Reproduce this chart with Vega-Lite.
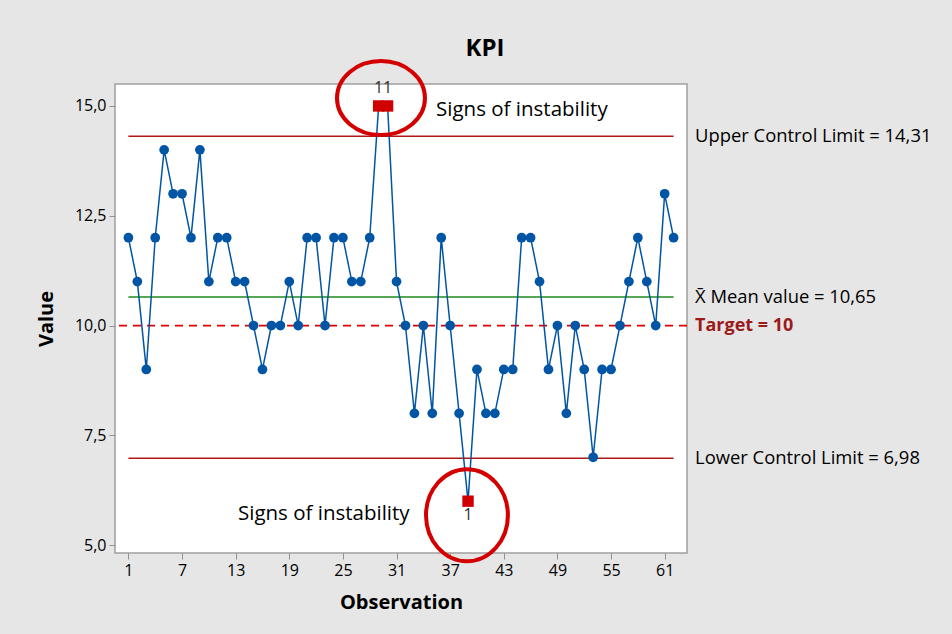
{
  "$schema": "https://vega.github.io/schema/vega-lite/v6.json",
  "width": 572,
  "height": 469,
  "autosize": "none",
  "padding": {"left": 115, "top": 84, "right": 265, "bottom": 81},
  "background": "#e6e6e6",
  "config": {
    "view": {"fill": "#ffffff", "stroke": "#a0a0a0", "strokeWidth": 1.5},
    "font": "Open Sans",
    "axis": {"grid": false, "domain": false, "tickColor": "#909090", "tickSize": 6, "labelFont": "Open Sans", "labelFontSize": 16, "labelColor": "#000000", "titleFont": "Open Sans", "titleFontSize": 20, "titleFontWeight": "bold", "titleColor": "#000000", "labelPadding": 3}
  },
  "title": {"text": "KPI", "fontSize": 24, "fontWeight": "bold", "font": "Open Sans", "anchor": "middle", "frame": "group", "dx": 84, "offset": -8, "color": "#000000"},
  "datasets": {
    "kpi": [
      {"obs": 1, "value": 12}, {"obs": 2, "value": 11}, {"obs": 3, "value": 9}, {"obs": 4, "value": 12},
      {"obs": 5, "value": 14}, {"obs": 6, "value": 13}, {"obs": 7, "value": 13}, {"obs": 8, "value": 12},
      {"obs": 9, "value": 14}, {"obs": 10, "value": 11}, {"obs": 11, "value": 12}, {"obs": 12, "value": 12},
      {"obs": 13, "value": 11}, {"obs": 14, "value": 11}, {"obs": 15, "value": 10}, {"obs": 16, "value": 9},
      {"obs": 17, "value": 10}, {"obs": 18, "value": 10}, {"obs": 19, "value": 11}, {"obs": 20, "value": 10},
      {"obs": 21, "value": 12}, {"obs": 22, "value": 12}, {"obs": 23, "value": 10}, {"obs": 24, "value": 12},
      {"obs": 25, "value": 12}, {"obs": 26, "value": 11}, {"obs": 27, "value": 11}, {"obs": 28, "value": 12},
      {"obs": 29, "value": 15}, {"obs": 30, "value": 15}, {"obs": 31, "value": 11}, {"obs": 32, "value": 10},
      {"obs": 33, "value": 8}, {"obs": 34, "value": 10}, {"obs": 35, "value": 8}, {"obs": 36, "value": 12},
      {"obs": 37, "value": 10}, {"obs": 38, "value": 8}, {"obs": 39, "value": 6}, {"obs": 40, "value": 9},
      {"obs": 41, "value": 8}, {"obs": 42, "value": 8}, {"obs": 43, "value": 9}, {"obs": 44, "value": 9},
      {"obs": 45, "value": 12}, {"obs": 46, "value": 12}, {"obs": 47, "value": 11}, {"obs": 48, "value": 9},
      {"obs": 49, "value": 10}, {"obs": 50, "value": 8}, {"obs": 51, "value": 10}, {"obs": 52, "value": 9},
      {"obs": 53, "value": 7}, {"obs": 54, "value": 9}, {"obs": 55, "value": 9}, {"obs": 56, "value": 10},
      {"obs": 57, "value": 11}, {"obs": 58, "value": 12}, {"obs": 59, "value": 11}, {"obs": 60, "value": 10},
      {"obs": 61, "value": 13}, {"obs": 62, "value": 12}
    ],
    "limits": [
      {"line": "UCL", "start": 1, "end": 62, "labelx": 64.4, "level": 14.31, "label": "Upper Control Limit = 14,31"},
      {"line": "Mean", "start": 1, "end": 62, "labelx": 64.4, "level": 10.65, "label": "X̄ Mean value = 10,65"},
      {"line": "LCL", "start": 1, "end": 62, "labelx": 64.4, "level": 6.98, "label": "Lower Control Limit = 6,98"}
    ],
    "target": [{"level": 10, "label": "Target = 10", "labelx": 64.4}],
    "notes": [
      {"nx": 35.42, "ny": 14.91, "note": "Signs of instability"},
      {"nx": 13.26, "ny": 5.71, "note": "Signs of instability"}
    ],
    "ringTop": [{"rx": 29.26, "ry": 15.18}],
    "ringBottom": [{"rx": 38.88, "ry": 5.68}]
  },
  "layer": [
    {"data": {"name": "target"},
     "mark": {"type": "rule", "color": "#e00000", "strokeWidth": 1.8, "strokeDash": [8, 6]},
     "encoding": {"y": {"field": "level", "type": "quantitative", "scale": {"domain": [4.82, 15.5], "nice": false, "zero": false},
       "axis": {"values": [5, 7.5, 10, 12.5, 15], "labelExpr": "replace(format(datum.value, '.1f'), '.', ',')", "title": "Value", "titlePadding": 18}}}},
    {"data": {"name": "limits"},
     "mark": {"type": "rule", "strokeWidth": 1.5},
     "encoding": {
       "x": {"field": "start", "type": "quantitative", "scale": {"domain": [-0.5, 63.5], "nice": false, "zero": false},
         "axis": {"values": [1, 7, 13, 19, 25, 31, 37, 43, 49, 55, 61], "title": "Observation", "titlePadding": 14}},
       "x2": {"field": "end"},
       "y": {"field": "level", "type": "quantitative"},
       "color": {"field": "line", "type": "nominal", "scale": {"domain": ["UCL", "Mean", "LCL"], "range": ["#b01818", "#1e8a1e", "#b01818"]}, "legend": null}}},
    {"data": {"name": "kpi"},
     "mark": {"type": "line", "color": "#0055a5", "strokeWidth": 1.5},
     "encoding": {"x": {"field": "obs", "type": "quantitative"}, "y": {"field": "value", "type": "quantitative"}}},
    {"data": {"name": "kpi"},
     "transform": [{"filter": "datum.value <= 14.31 && datum.value >= 6.98"}],
     "mark": {"type": "point", "shape": "circle", "filled": true, "opacity": 1, "color": "#0055a5", "size": 95},
     "encoding": {"x": {"field": "obs", "type": "quantitative"}, "y": {"field": "value", "type": "quantitative"}}},
    {"data": {"name": "kpi"},
     "transform": [{"filter": "datum.value > 14.31 || datum.value < 6.98"}],
     "mark": {"type": "point", "shape": "square", "filled": true, "opacity": 1, "color": "#d00000", "size": 130},
     "encoding": {"x": {"field": "obs", "type": "quantitative"}, "y": {"field": "value", "type": "quantitative"}}},
    {"data": {"name": "kpi"},
     "transform": [{"filter": "datum.value > 14.31"}],
     "mark": {"type": "text", "text": "1", "dy": -18, "fontSize": 16, "color": "#303030"},
     "encoding": {"x": {"field": "obs", "type": "quantitative"}, "y": {"field": "value", "type": "quantitative"}}},
    {"data": {"name": "kpi"},
     "transform": [{"filter": "datum.value < 6.98"}],
     "mark": {"type": "text", "text": "1", "dy": 14, "fontSize": 16, "color": "#303030"},
     "encoding": {"x": {"field": "obs", "type": "quantitative"}, "y": {"field": "value", "type": "quantitative"}}},
    {"data": {"name": "ringTop"},
     "mark": {"type": "point", "shape": "M -1 0 A 1 0.84 0 1 0 1 0 A 1 0.84 0 1 0 -1 0 Z", "filled": false, "opacity": 1, "stroke": "#d40000", "strokeWidth": 4, "size": 7744},
     "encoding": {"x": {"field": "rx", "type": "quantitative"}, "y": {"field": "ry", "type": "quantitative"}}},
    {"data": {"name": "ringBottom"},
     "mark": {"type": "point", "shape": "M -0.89 0 A 0.89 1 0 1 0 0.89 0 A 0.89 1 0 1 0 -0.89 0 Z", "filled": false, "opacity": 1, "stroke": "#d40000", "strokeWidth": 4, "size": 8464},
     "encoding": {"x": {"field": "rx", "type": "quantitative"}, "y": {"field": "ry", "type": "quantitative"}}},
    {"data": {"name": "notes"},
     "mark": {"type": "text", "align": "left", "baseline": "middle", "fontSize": 20.5, "color": "#000000"},
     "encoding": {"x": {"field": "nx", "type": "quantitative"}, "y": {"field": "ny", "type": "quantitative"}, "text": {"field": "note"}}},
    {"data": {"name": "limits"},
     "mark": {"type": "text", "align": "left", "baseline": "middle", "fontSize": 18.4, "color": "#000000"},
     "encoding": {"x": {"field": "labelx", "type": "quantitative"}, "y": {"field": "level", "type": "quantitative"}, "text": {"field": "label"}}},
    {"data": {"name": "target"},
     "mark": {"type": "text", "align": "left", "baseline": "middle", "fontSize": 18, "fontWeight": "bold", "color": "#9b1b1b"},
     "encoding": {"x": {"field": "labelx", "type": "quantitative"}, "y": {"field": "level", "type": "quantitative"}, "text": {"field": "label"}}}
  ]
}
